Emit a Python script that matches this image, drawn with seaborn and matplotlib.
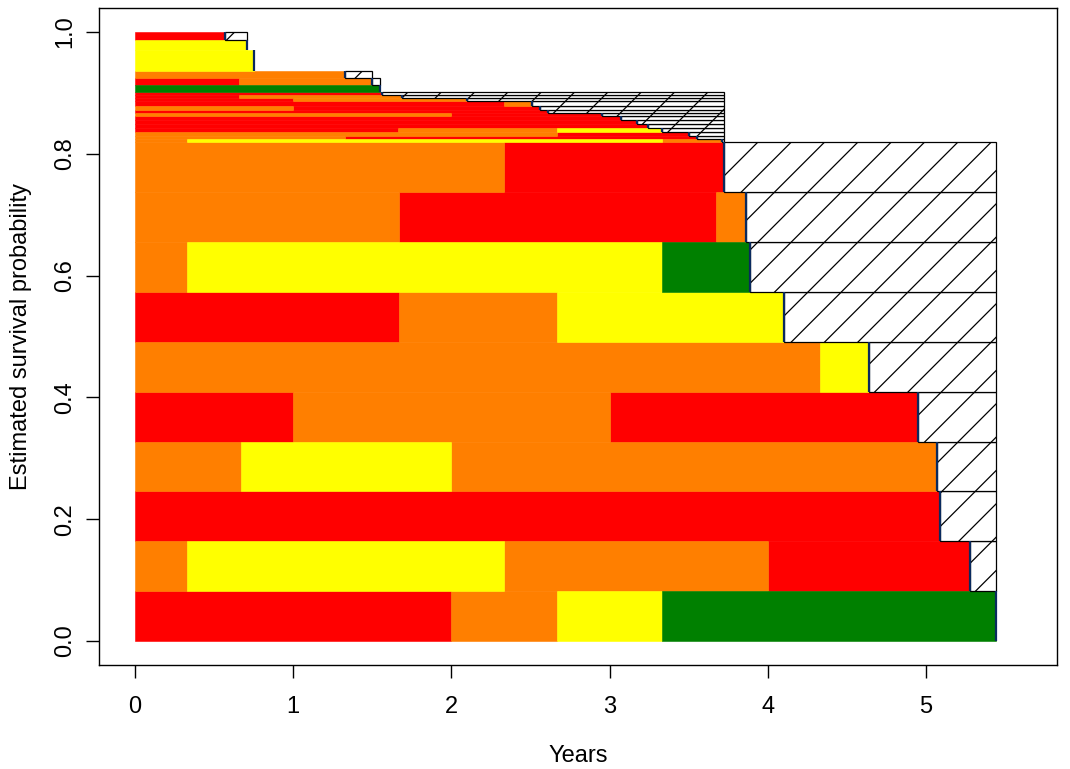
import matplotlib
matplotlib.use("Agg")
import matplotlib.pyplot as plt
import seaborn as sns
import pandas as pd

# ---------------- data ----------------
state_names = ["Red state", "Orange state", "Yellow state", "Green state"]
state_colors = ["#FF0000", "#FF7F00", "#FFFF00", "#008000"]

# survival-probability band of each patient row (lower, upper)
row_lower = [0.0000, 0.0819, 0.1637, 0.2456, 0.3274, 0.4093, 0.4912, 0.5730, 0.6549, 0.7367,
             0.8186, 0.8243, 0.8292, 0.8358, 0.8424, 0.8489, 0.8555, 0.8621, 0.8670, 0.8719,
             0.8785, 0.8859, 0.8924, 0.8966,
             0.9007, 0.9130, 0.9245,
             0.9360, 0.9704, 0.9869]
row_upper = [0.0819, 0.1637, 0.2456, 0.3274, 0.4093, 0.4912, 0.5730, 0.6549, 0.7367, 0.8186,
             0.8243, 0.8292, 0.8358, 0.8424, 0.8489, 0.8555, 0.8621, 0.8670, 0.8719, 0.8785,
             0.8859, 0.8924, 0.8966, 0.9007,
             0.9130, 0.9245, 0.9360,
             0.9704, 0.9869, 1.0000]

# state change times (start of each state + end of follow-up)
row_times = [
    [0, 2.0, 2.67, 3.33, 5.44],
    [0, 0.33, 2.33, 4.0, 5.28],
    [0, 5.09],
    [0, 0.67, 2.0, 5.07],
    [0, 1.0, 3.0, 4.95],
    [0, 4.33, 4.64],
    [0, 1.67, 2.67, 4.10],
    [0, 0.33, 3.33, 3.89],
    [0, 1.67, 3.67, 3.86],
    [0, 2.33, 3.72],
    [0, 0.33, 3.33, 3.71],
    [0, 1.33, 3.55],
    [0, 2.67, 3.50],
    [0, 1.66, 2.67, 3.33],
    [0, 3.24],
    [0, 3.17],
    [0, 3.07],
    [0, 2.0, 2.95],
    [0, 2.61],
    [0, 1.0, 2.56],
    [0, 2.33, 2.51],
    [0, 1.0, 2.10],
    [0, 0.66, 1.69],
    [0, 1.56],
    [0, 1.55],
    [0, 0.66, 1.50],
    [0, 1.33],
    [0, 0.75],
    [0, 0.71],
    [0, 0.57],
]
# state index of each interval (0=red, 1=orange, 2=yellow, 3=green)
row_states = [
    [0, 1, 2, 3],
    [1, 2, 1, 0],
    [0],
    [1, 2, 1],
    [0, 1, 0],
    [1, 2],
    [0, 1, 2],
    [1, 2, 3],
    [1, 0, 1],
    [1, 0],
    [1, 2, 1],
    [1, 0],
    [1, 0],
    [0, 1, 2],
    [0],
    [0],
    [0],
    [1, 0],
    [0],
    [1, 0],
    [0, 1],
    [0, 1],
    [0, 1],
    [0],
    [3],
    [0, 1],
    [1],
    [2],
    [2],
    [0],
]
row_dead = [False, True, True, True, True, True, True, True, True, True,
            True, True, True, True, True, True, True, True, True, True,
            True, True, True, True,
            False, True, True,
            False, False, True]
# time up to which the death area of each row is shaded
row_hatch_end = [5.44] * 10 + [3.72] * 14 + [1.55, 1.55, 1.50] + [0.75, 0.71, 0.71]

x_ticks = [0, 1, 2, 3, 4, 5]
y_ticks = [0.0, 0.2, 0.4, 0.6, 0.8, 1.0]
x_label = "Years"
y_label = "Estimated survival probability"

# ---------------- build tables ----------------
seg_rows = []
for i, (times, states) in enumerate(zip(row_times, row_states)):
    for k, s in enumerate(states):
        seg_rows.append(dict(row=i, start=times[k], stop=times[k + 1], state=s,
                             lo=row_lower[i], hi=row_upper[i]))
segs = pd.DataFrame(seg_rows)
rows = pd.DataFrame(dict(lo=row_lower, hi=row_upper,
                         end=[t[-1] for t in row_times],
                         dead=row_dead, hatch_end=row_hatch_end))

# ---------------- plot ----------------
sns.set_theme(style="white")
plt.rcParams["font.family"] = ["Liberation Sans", "DejaVu Sans"]
plt.rcParams["hatch.linewidth"] = 0.9

fig = plt.figure(figsize=(10.70, 7.69), dpi=100)
ax = fig.add_axes([99 / 1070, 1 - 665 / 769, 958 / 1070, 657 / 769])

for s, grp in segs.groupby("state"):
    ax.barh(y=grp["lo"], width=grp["stop"] - grp["start"], left=grp["start"],
            height=grp["hi"] - grp["lo"], align="edge",
            color=state_colors[s], edgecolor=state_colors[s], linewidth=0.4,
            label=state_names[s], zorder=2)

dead = rows[rows["dead"]]
ax.barh(y=dead["lo"], width=dead["hatch_end"] - dead["end"], left=dead["end"],
        height=dead["hi"] - dead["lo"], align="edge",
        color="white", edgecolor="black", linewidth=0.9, hatch="/", zorder=3)

ax.vlines(rows["end"], rows["lo"], rows["hi"], color="#0A2A5E", linewidth=1.6, zorder=4)

ax.set_xlim(-0.2276, 5.828)
ax.set_ylim(-0.0394, 1.0394)
ax.set_xticks(x_ticks)
ax.set_xticklabels([str(v) for v in x_ticks])
ax.set_yticks(y_ticks)
ax.set_yticklabels([f"{v:.1f}" for v in y_ticks], rotation=90, va="center")
ax.tick_params(axis="both", direction="out", length=9.5, width=1.0, color="black",
               labelsize=17, labelcolor="black", bottom=True, left=True)
ax.tick_params(axis="x", pad=13)
ax.tick_params(axis="y", pad=7)
for sp in ax.spines.values():
    sp.set_visible(True)
    sp.set_color("black")
    sp.set_linewidth(1.0)
ax.set_xlabel(x_label, fontsize=17, color="black", labelpad=19)
ax.set_ylabel(y_label, fontsize=17, color="black", labelpad=16)
ax.grid(False)

fig.savefig("out.png", dpi=100)
